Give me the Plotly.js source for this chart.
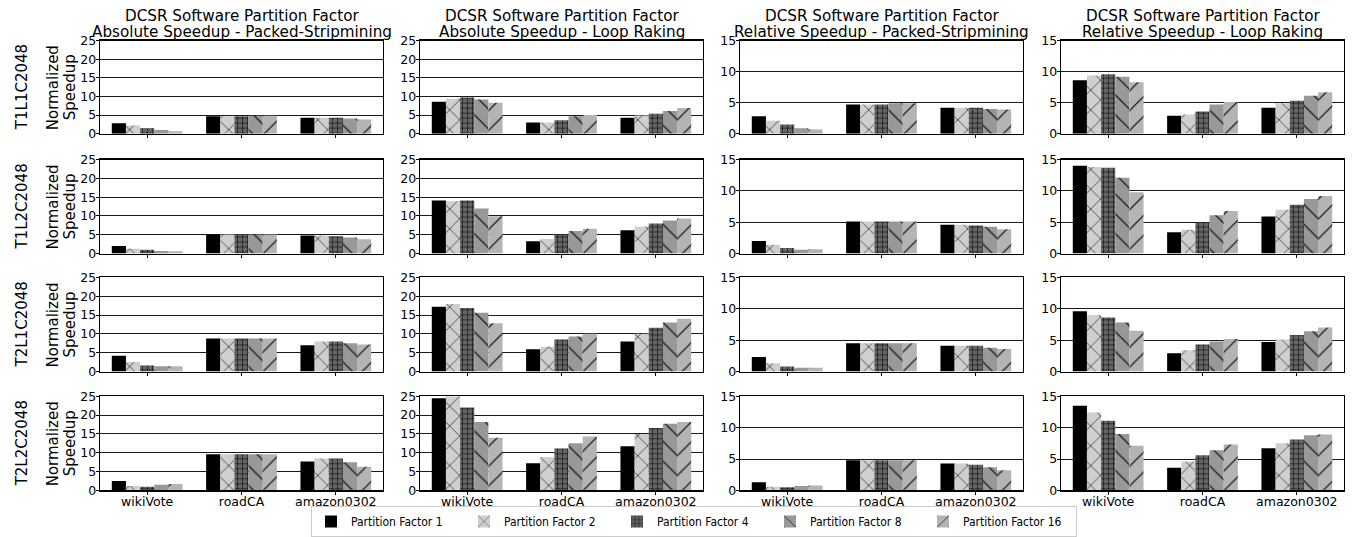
<!DOCTYPE html>
<html>
<head>
<meta charset="utf-8">
<script src="https://cdn.plot.ly/plotly-3.0.1.min.js"></script>
<style>html,body{margin:0;padding:0;background:#fff;}#chart{width:1353px;height:537px;}</style>
</head>
<body>
<div id="chart"></div>
<script>
// Categories, series and configurations
const categories = ['wikiVote', 'roadCA', 'amazon0302'];
const seriesNames = ['Partition Factor 1', 'Partition Factor 2', 'Partition Factor 4', 'Partition Factor 8', 'Partition Factor 16'];
const configs = ['T1L1C2048', 'T1L2C2048', 'T2L1C2048', 'T2L2C2048'];
const titleLine1 = 'DCSR Software Partition Factor';
const columnTitles = [
  'Absolute Speedup - Packed-Stripmining',
  'Absolute Speedup - Loop Raking',
  'Relative Speedup - Packed-Stripmining',
  'Relative Speedup - Loop Raking'
];
const columnYMax = [25, 25, 15, 15];

// values[row] = [wikiVote(5 factors), roadCA(5 factors), amazon0302(5 factors)]
const absPacked = [
  [[2.8, 2.2, 1.5, 1.0, 0.7], [4.7, 4.7, 4.7, 4.8, 4.8], [4.3, 4.3, 4.3, 4.1, 3.8]],
  [[2.0, 1.3, 1.0, 0.7, 0.6], [5.1, 5.1, 5.1, 5.1, 5.1], [4.8, 4.8, 4.6, 4.3, 3.8]],
  [[4.2, 2.5, 1.6, 1.4, 1.4], [8.8, 8.8, 8.8, 8.8, 8.8], [7.0, 8.0, 8.0, 7.5, 7.2]],
  [[2.5, 1.2, 1.0, 1.5, 1.7], [9.6, 9.6, 9.6, 9.6, 9.6], [7.7, 8.5, 8.5, 7.5, 6.3]]
];
const absRaking = [
  [[8.6, 9.4, 9.7, 9.2, 8.3], [3.0, 3.0, 3.6, 4.7, 5.0], [4.3, 4.9, 5.4, 6.1, 6.9]],
  [[14.1, 13.9, 14.1, 12.0, 9.9], [3.3, 3.9, 5.0, 6.0, 6.6], [6.2, 7.2, 8.0, 8.8, 9.3]],
  [[17.2, 17.9, 16.9, 15.6, 12.8], [5.9, 6.6, 8.5, 9.3, 10.0], [8.0, 10.0, 11.6, 13.0, 14.0]],
  [[24.5, 25.0, 22.0, 18.2, 14.0], [7.2, 8.9, 11.1, 12.5, 14.3], [11.7, 15.0, 16.6, 17.7, 18.2]]
];
const relPacked = [
  [[2.8, 2.1, 1.5, 0.9, 0.7], [4.7, 4.7, 4.7, 4.9, 4.9], [4.2, 4.2, 4.2, 4.0, 3.9]],
  [[2.0, 1.4, 0.9, 0.6, 0.7], [5.1, 5.1, 5.1, 5.1, 5.1], [4.6, 4.6, 4.5, 4.3, 3.9]],
  [[2.3, 1.3, 0.8, 0.6, 0.6], [4.5, 4.5, 4.5, 4.5, 4.5], [4.1, 4.1, 4.1, 3.8, 3.6]],
  [[1.3, 0.6, 0.5, 0.7, 0.8], [4.8, 4.8, 4.8, 4.8, 4.8], [4.3, 4.3, 4.1, 3.7, 3.2]]
];
const relRaking = [
  [[8.6, 9.4, 9.6, 9.2, 8.3], [2.9, 3.1, 3.6, 4.7, 5.1], [4.2, 4.9, 5.3, 6.1, 6.7]],
  [[14.0, 13.8, 13.7, 12.1, 9.8], [3.4, 3.8, 4.9, 6.1, 6.8], [5.9, 7.0, 7.8, 8.7, 9.2]],
  [[9.6, 9.0, 8.6, 7.8, 6.5], [2.9, 3.4, 4.3, 4.8, 5.2], [4.7, 5.1, 5.8, 6.4, 7.0]],
  [[13.5, 12.4, 11.1, 9.0, 7.1], [3.6, 4.6, 5.6, 6.4, 7.3], [6.7, 7.5, 8.1, 8.8, 8.9]]
];
const panels = [absPacked, absRaking, relPacked, relRaking];

// Styles
const fills = ['#000000', '#cfcfcf', '#656565', '#989898', '#b4b4b4'];
const shapes = ['', 'x', '+', '\\', '/'];
const sizes = [8, 14, 5, 14, 14];
const solid = [0.3, 0.08, 0.2, 0.08, 0.08];

const W = 1353, H = 537;
const colPx = [[100, 383], [420, 703], [740, 1023], [1061, 1344]];
const rowPx = [[41, 135], [161, 256], [280, 375], [400, 495]];

const font = 'DejaVu Sans, Arial, sans-serif';
const traces = [];
const layout = {
  width: W, height: H,
  margin: {l: 0, r: 0, t: 0, b: 0},
  paper_bgcolor: '#fff', plot_bgcolor: '#fff',
  barmode: 'group', bargap: 0.25, bargroupgap: 0,
  font: {family: font, size: 13, color: '#000'},
  showlegend: true,
  legend: {
    orientation: 'h', x: 694 / W, xanchor: 'center', y: 1 - 511 / H, yanchor: 'top',
    bgcolor: 'rgba(255,255,255,0)',
    bordercolor: '#cccccc', borderwidth: 1, entrywidth: 108, entrywidthmode: 'pixels',
    font: {family: 'DejaVu Sans Condensed, Liberation Sans Narrow, sans-serif', size: 12, color: '#000'},
    tracegroupgap: 0, itemwidth: 30
  },
  annotations: []
};

for (let r = 0; r < 4; r++) {
  for (let c = 0; c < 4; c++) {
    const k = r * 4 + c + 1;
    const xa = 'x' + (k === 1 ? '' : k);
    const ya = 'y' + (k === 1 ? '' : k);
    const data = panels[c][r];
    for (let f = 0; f < 5; f++) {
      const marker = {color: fills[f], line: {width: 0}};
      if (shapes[f]) {
        marker.pattern = {shape: shapes[f], fgcolor: '#000', bgcolor: fills[f], size: sizes[f], solidity: solid[f], fillmode: 'replace', fgopacity: 1};
      }
      traces.push({
        type: 'bar', x: categories, y: data.map(cat => cat[f]),
        name: seriesNames[f], legendgroup: seriesNames[f],
        showlegend: k === 1, marker: marker,
        xaxis: xa, yaxis: ya, hoverinfo: 'skip'
      });
    }
    const xKey = 'xaxis' + (k === 1 ? '' : k);
    const yKey = 'yaxis' + (k === 1 ? '' : k);
    layout[xKey] = {
      domain: [colPx[c][0] / W, colPx[c][1] / W], anchor: ya,
      range: [-0.5, 2.5], type: 'category',
      showline: true, mirror: true, linecolor: '#000', linewidth: 1.3,
      ticks: 'outside', ticklen: 3, tickcolor: '#000',
      showticklabels: r === 3, tickfont: {size: 12.5, family: font},
      ticklabelstandoff: -4,
      showgrid: false, zeroline: false, fixedrange: true
    };
    layout[yKey] = {
      domain: [1 - rowPx[r][1] / H, 1 - rowPx[r][0] / H], anchor: xa,
      range: [0, columnYMax[c]], dtick: 5, tick0: 0,
      showline: true, mirror: true, linecolor: '#000', linewidth: 1.3,
      ticks: 'outside', ticklen: 3, tickcolor: '#000',
      tickfont: {size: 12.5, family: font}, ticklabelstandoff: -3,
      showgrid: true, gridcolor: '#1a1a1a', gridwidth: 1, zeroline: false, fixedrange: true
    };
  }
}

// Column titles (two lines)
for (let c = 0; c < 4; c++) {
  const xc = (colPx[c][0] + colPx[c][1]) / 2 / W;
  layout.annotations.push({
    xref: 'paper', yref: 'paper', x: xc, y: 1 - 16 / H,
    xanchor: 'center', yanchor: 'middle', showarrow: false,
    text: titleLine1, font: {size: 15.2, family: font, color: '#000'}
  });
  layout.annotations.push({
    xref: 'paper', yref: 'paper', x: xc, y: 1 - 32 / H,
    xanchor: 'center', yanchor: 'middle', showarrow: false,
    text: columnTitles[c], font: {size: 15.2, family: font, color: '#000'}
  });
}
// Row labels
for (let r = 0; r < 4; r++) {
  const yc = 1 - (rowPx[r][0] + rowPx[r][1]) / 2 / H;
  layout.annotations.push({
    xref: 'paper', yref: 'paper', x: 22 / W, y: yc, xanchor: 'center', yanchor: 'middle',
    showarrow: false, textangle: -90, text: configs[r], font: {size: 15, family: font, color: '#000'}
  });
  layout.annotations.push({
    xref: 'paper', yref: 'paper', x: 53 / W, y: yc, xanchor: 'center', yanchor: 'middle',
    showarrow: false, textangle: -90, text: 'Normalized', font: {size: 15, family: font, color: '#000'}
  });
  layout.annotations.push({
    xref: 'paper', yref: 'paper', x: 70 / W, y: yc, xanchor: 'center', yanchor: 'middle',
    showarrow: false, textangle: -90, text: 'Speedup', font: {size: 15, family: font, color: '#000'}
  });
}

Plotly.newPlot('chart', traces, layout, {staticPlot: true, displayModeBar: false});
</script>
</body>
</html>
